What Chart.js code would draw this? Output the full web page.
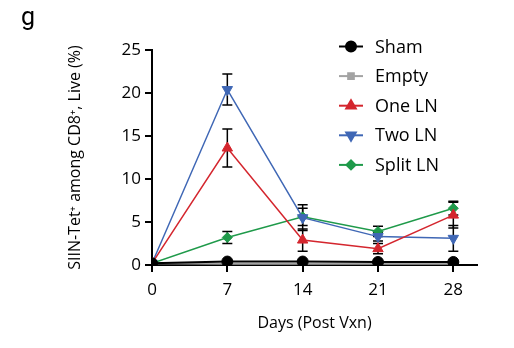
<!DOCTYPE html>
<html>
<head>
<meta charset="utf-8">
<script src="https://cdn.jsdelivr.net/npm/chart.js@4.4.1/dist/chart.umd.min.js"></script>
<style>
  html, body { margin: 0; padding: 0; background: #fff; }
  #wrap { position: relative; width: 514px; height: 348px; }
  #panel { position: absolute; left: 21px; top: 2px; font: 25px Roboto, sans-serif; color: #000; }
</style>
</head>
<body>
<div id="wrap">
  <canvas id="grafico" width="514" height="348"></canvas>
  <div id="panel">g</div>
</div>
<script>
// dias pos vacina
var dias = [0, 7, 14, 21, 28];
var grupos = ['Sham', 'Empty', 'One LN', 'Two LN', 'Split LN'];
// media de cada grupo (%)
var sham = [0.2, 0.4, 0.4, 0.35, 0.35];
var empty = [0.2, 0.15, 0.15, 0.15, 0.15];
var one_ln = [0.2, 13.6, 2.9, 1.9, 5.8];
var two_ln = [0.2, 20.4, 5.5, 3.3, 3.1];
var split_ln = [0.2, 3.2, 5.6, 3.9, 6.6];
// erro padrao
var sham_err = [0, 0.1, 0.1, 0.1, 0.1];
var empty_err = [0, 0.05, 0.05, 0.05, 0.05];
var one_ln_err = [0, 2.2, 1.3, 0.6, 1.5];
var two_ln_err = [0, 1.8, 1.5, 0.5, 1.5];
var split_ln_err = [0, 0.7, 1.0, 0.6, 0.8];
var ticks_x = [0, 7, 14, 21, 28];

var cores = ['#000000', '#a3a3a3', '#d4262e', '#3f67b5', '#1f9a4a'];
var marcadores = ['circle', 'rect', 'triangle', 'triangle', 'rectRot'];
var rotacao = [0, 0, 0, 180, 0];
var raios = [5.5, 4.5, 6, 6, 5];

var medias = [sham, empty, one_ln, two_ln, split_ln];
var erros = [sham_err, empty_err, one_ln_err, two_ln_err, split_ln_err];

function pontos(valores) {
    return dias.map(function (d, i) { return { x: d, y: valores[i] }; });
}

var datasets = grupos.map(function (nome, i) {
    return {
        label: nome,
        data: pontos(medias[i]),
        borderColor: cores[i],
        backgroundColor: cores[i],
        borderWidth: i < 2 ? 2 : 1.5,
        pointStyle: marcadores[i],
        rotation: rotacao[i],
        pointRadius: raios[i],
        pointBorderWidth: 1,
        tension: 0
    };
});

// barras de erro desenhadas antes dos pontos
var barrasErro = {
    id: 'barrasErro',
    beforeDatasetsDraw: function (chart) {
        var ctx = chart.ctx;
        var sx = chart.scales.x, sy = chart.scales.y;
        ctx.save();
        ctx.strokeStyle = '#000';
        ctx.lineWidth = 1.5;
        erros.forEach(function (err, g) {
            dias.forEach(function (d, i) {
                if (!err[i]) return;
                var x = sx.getPixelForValue(d);
                var y1 = sy.getPixelForValue(medias[g][i] + err[i]);
                var y2 = sy.getPixelForValue(medias[g][i] - err[i]);
                ctx.beginPath();
                ctx.moveTo(x, y1); ctx.lineTo(x, y2);
                ctx.moveTo(x - 5, y1); ctx.lineTo(x + 5, y1);
                ctx.moveTo(x - 5, y2); ctx.lineTo(x + 5, y2);
                ctx.stroke();
            });
        });
        ctx.restore();
    }
};

// legenda dentro do grafico
var legenda = {
    id: 'legenda',
    afterDraw: function (chart) {
        var ctx = chart.ctx;
        ctx.save();
        ctx.font = '18px "Open Sans", sans-serif';
        ctx.textBaseline = 'middle';
        grupos.forEach(function (nome, i) {
            var y = 46.5 + i * 29.6;
            ctx.strokeStyle = cores[i];
            ctx.lineWidth = 2;
            ctx.beginPath();
            ctx.moveTo(339, y); ctx.lineTo(363, y);
            ctx.stroke();
            ctx.fillStyle = cores[i];
            Chart.helpers.drawPoint(ctx, {
                pointStyle: marcadores[i], rotation: rotacao[i],
                radius: raios[i] - 0.5, borderWidth: 1
            }, 351, y);
            ctx.fillStyle = '#000';
            ctx.fillText(nome, 375, y + 1);
        });
        ctx.restore();
    }
};

var ctx = document.getElementById('grafico').getContext('2d');
var myChart = new Chart(ctx, {
    type: 'line',
    data: { datasets: datasets },
    plugins: [barrasErro, legenda],
    options: {
        responsive: false,
        animation: false,
        layout: { padding: { left: 0, right: 37, top: 50, bottom: 0 } },
        plugins: { legend: { display: false }, tooltip: { enabled: false } },
        scales: {
            x: {
                type: 'linear',
                min: 0,
                max: 30.2,
                afterBuildTicks: function (scale) {
                    scale.ticks = ticks_x.map(function (v) { return { value: v }; });
                },
                afterFit: function (scale) { scale.height = 83; },
                border: { color: '#000', width: 2 },
                grid: { drawOnChartArea: false, drawTicks: true, tickLength: 7, color: '#000', lineWidth: 2 },
                ticks: { color: '#000', font: { family: 'Open Sans', size: 17 }, padding: 8, maxRotation: 0 },
                title: {
                    display: true, text: 'Days (Post Vxn)', color: '#000',
                    font: { family: 'Open Sans', size: 16 }, padding: { top: 4, bottom: 15 }
                }
            },
            y: {
                min: 0,
                max: 25,
                ticks: { stepSize: 5, color: '#000', font: { family: 'Open Sans', size: 17 }, padding: 4 },
                afterFit: function (scale) { scale.width = 152; },
                border: { color: '#000', width: 2 },
                grid: { drawOnChartArea: false, drawTicks: true, tickLength: 7, color: '#000', lineWidth: 2 },
                title: {
                    display: true, text: 'SIIN-Tet⁺ among CD8⁺, Live (%)', color: '#000',
                    font: { family: 'Open Sans', size: 16 }, padding: { top: 66, bottom: 0 }
                }
            }
        }
    }
});
</script>
</body>
</html>
